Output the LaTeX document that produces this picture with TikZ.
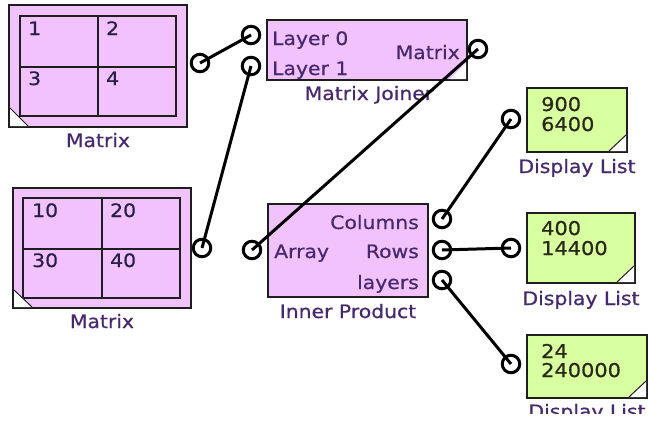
\documentclass[tikz,border=0pt]{standalone}
\usepackage{fontspec}
\setmainfont[FakeStretch=1.1,FakeBold=0.6]{DejaVu Sans}
\definecolor{pinkfill}{RGB}{242,194,255}
\definecolor{greenfill}{RGB}{216,255,160}
\definecolor{edge}{RGB}{30,30,30}
\definecolor{labcol}{RGB}{70,40,110}
\definecolor{celltxt}{RGB}{40,30,70}
\definecolor{disptxt}{RGB}{40,40,20}
\begin{document}
\begin{tikzpicture}[x=1pt,y=-1pt,
  pinkbox/.style={draw=edge,fill=pinkfill,line width=2pt,inner sep=0pt},
  greenbox/.style={draw=edge,fill=greenfill,line width=2pt,inner sep=0pt},
  gridline/.style={draw=edge,line width=2pt},
  tri/.style={fill=white},
  triline/.style={draw=edge,line width=1pt},
  port/.style={circle,draw=black,line width=3pt,minimum size=17.5pt,inner sep=0pt},
  wire/.style={line width=3pt,black},
  txt/.style={inner sep=0pt,font=\fontsize{18.5}{20}\selectfont},
  lab/.style={txt,text=labcol,anchor=base},
  cell/.style={txt,text=celltxt,anchor=base west},
  disp/.style={inner sep=0pt,font=\fontsize{19}{20}\selectfont,text=disptxt,anchor=base west},
]
\useasboundingbox (0,0) rectangle (649,421);
\fill[white] (0,0) rectangle (649,421);

% Matrix 1
\node[pinkbox,minimum width=178pt,minimum height=122pt] (m1) at (98,66) {};
\draw[gridline] (20,16) rectangle (176,116) (98,16) -- (98,116) (20,67) -- (176,67);
\fill[tri] (10,108) -- (28,126) -- (10,126) -- cycle;
\draw[triline] (10,108) -- (28,126);
\node[cell] (c1) at (28,35) {1};
\node[cell] (c2) at (106,35) {2};
\node[cell] (c3) at (28,85) {3};
\node[cell] (c4) at (106,85) {4};
\node[lab] (lm1) at (98,147) {Matrix};

% Matrix 2
\node[pinkbox,minimum width=178pt,minimum height=120pt] (m2) at (102,248) {};
\draw[gridline] (23,198) rectangle (180,298) (102,198) -- (102,298) (23,249) -- (180,249);
\fill[tri] (14,290) -- (32,307) -- (14,307) -- cycle;
\draw[triline] (14,290) -- (32,307);
\node[cell] (c10) at (32,217) {10};
\node[cell] (c20) at (110,217) {20};
\node[cell] (c30) at (32,267) {30};
\node[cell] (c40) at (110,267) {40};
\node[lab] (lm2) at (102,328) {Matrix};

% Matrix Joiner
\node[pinkbox,minimum width=200pt,minimum height=60pt] (mj) at (367,50) {};
\fill[tri] (466,63) -- (466,79) -- (450,79) -- cycle;
\node[txt,text=labcol,anchor=base west] (l0) at (272,45) {Layer 0};
\node[txt,text=labcol,anchor=base west] (l1) at (272,75) {Layer 1};
\node[txt,text=labcol,anchor=base east] (mo) at (460,59) {Matrix};
\node[lab] (lmj) at (369,100) {Matrix Joiner};

% Inner Product
\node[pinkbox,minimum width=160pt,minimum height=93pt] (ip) at (348,250.5) {};
\node[txt,text=labcol,anchor=base west] (arr) at (274,258) {Array};
\node[txt,text=labcol,anchor=base east] (col) at (419,229) {Columns};
\node[txt,text=labcol,anchor=base east] (row) at (419,258) {Rows};
\node[txt,text=labcol,anchor=base east] (lay) at (419,289) {layers};
\node[lab] (lip) at (348,318) {Inner Product};

% Display Lists
\node[greenbox,minimum width=100pt,minimum height=64pt] (d1) at (577,120) {};
\fill[tri] (626,135) -- (626,151) -- (609,151) -- cycle;
\draw[triline] (626,135) -- (609,151);
\node[disp] (d1a) at (541,111) {900};
\node[disp] (d1b) at (541,131) {6400};
\node[lab] (ld1) at (577,173) {Display List};

\node[greenbox,minimum width=108pt,minimum height=70pt] (d2) at (581,248) {};
\fill[tri] (634,266) -- (634,282) -- (617,282) -- cycle;
\draw[triline] (634,266) -- (617,282);
\node[disp] (d2a) at (541,235) {400};
\node[disp] (d2b) at (541,255) {14400};
\node[lab] (ld2) at (581,305) {Display List};

\node[greenbox,minimum width=120pt,minimum height=63pt] (d3) at (587,366.5) {};
\fill[tri] (646,381) -- (646,397) -- (629,397) -- cycle;
\draw[triline] (646,381) -- (629,397);
\node[disp] (d3a) at (541,358) {24};
\node[disp] (d3b) at (541,377) {240000};
\begin{scope}
\clip (0,0) rectangle (649,413);
\node[lab] (ld3) at (587,418) {Display List};
\end{scope}

% Ports
\node[port] (pm1) at (200,63) {};
\node[port] (pj0) at (251,35) {};
\node[port] (pj1) at (251,66) {};
\node[port] (pjo) at (478,49) {};
\node[port] (pm2) at (202,248) {};
\node[port] (par) at (252,250) {};
\node[port] (pco) at (442,219) {};
\node[port] (pro) at (442,250) {};
\node[port] (pla) at (442,280) {};
\node[port] (pd1) at (511,119) {};
\node[port] (pd2) at (511,248) {};
\node[port] (pd3) at (511,364) {};

% Wires
\draw[wire] (pm1.center) -- (pj0.center);
\draw[wire] (pm2.center) -- (pj1.center);
\draw[wire] (par.center) -- (pjo.center);
\draw[wire] (pco.center) -- (pd1.center);
\draw[wire] (pro.center) -- (pd2.center);
\draw[wire] (pla.center) -- (pd3.center);
\end{tikzpicture}
\end{document}
